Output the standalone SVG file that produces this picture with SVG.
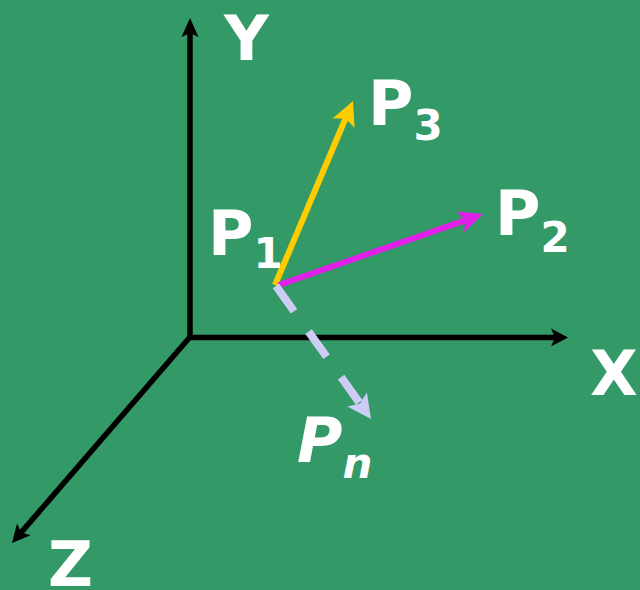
<svg xmlns="http://www.w3.org/2000/svg" width="640" height="590" viewBox="0 0 640 590">
<defs>
<style>
.ax{stroke:#000;stroke-width:5.5;fill:none}
.t{font-family:"DejaVu Sans",Verdana,sans-serif;font-weight:bold;fill:#fff}
.big{font-size:62px}
.sub{font-size:42px}
</style>
</defs>
<rect width="640" height="590" fill="#339966"/>
<g id="connectors">
<line class="ax" x1="190" y1="340" x2="190" y2="33"/>
<path d="M190,18 L198.5,37 L190,33 L181.5,37 Z" fill="#000"/>
<line class="ax" x1="187.5" y1="337.5" x2="555" y2="337.5"/>
<path d="M568,337.5 L551,346.5 L555,337.5 L551,328.5 Z" fill="#000"/>
<line class="ax" x1="190" y1="337" x2="21.2" y2="532.4"/>
<path d="M12,543 L17,523.5 L21.2,532.4 L30.6,535.3 Z" fill="#000"/>
<line x1="275" y1="285" x2="345.5" y2="118.5" stroke="#ffcc00" stroke-width="6"/>
<path d="M353,101 L354.6,127.8 L345.5,118.5 L332.6,118.4 Z" fill="#ffcc00"/>
<line x1="279" y1="285" x2="465.1" y2="220.3" stroke="#e020e8" stroke-width="6"/>
<path d="M483,214 L464.1,232.4 L465.1,220.3 L456.7,211.6 Z" fill="#e020e8"/>
<line x1="276" y1="286" x2="360" y2="403.5" stroke="#ccccf5" stroke-width="8" stroke-dasharray="31,25"/>
<path d="M371,419 L347.3,406.5 L360,403.5 L366.9,392.5 Z" fill="#ccccf5"/>
</g>
<g id="Y"><text class="t big" x="224" y="60">Y</text></g>
<g id="X"><text class="t big" x="590" y="395">X</text></g>
<g id="Z"><text class="t big" x="48" y="586">Z</text></g>
<g id="P1"><text class="t" x="208" y="255"><tspan class="big">P</tspan><tspan class="sub" dy="13">1</tspan></text></g>
<g id="P2"><text class="t" x="495" y="235"><tspan class="big">P</tspan><tspan class="sub" dy="17">2</tspan></text></g>
<g id="P3"><text class="t" x="368" y="125"><tspan class="big">P</tspan><tspan class="sub" dy="15">3</tspan></text></g>
<g id="Pn"><text class="t" x="297" y="462" font-style="italic"><tspan class="big">P</tspan><tspan class="sub" dy="16">n</tspan></text></g>
</svg>
